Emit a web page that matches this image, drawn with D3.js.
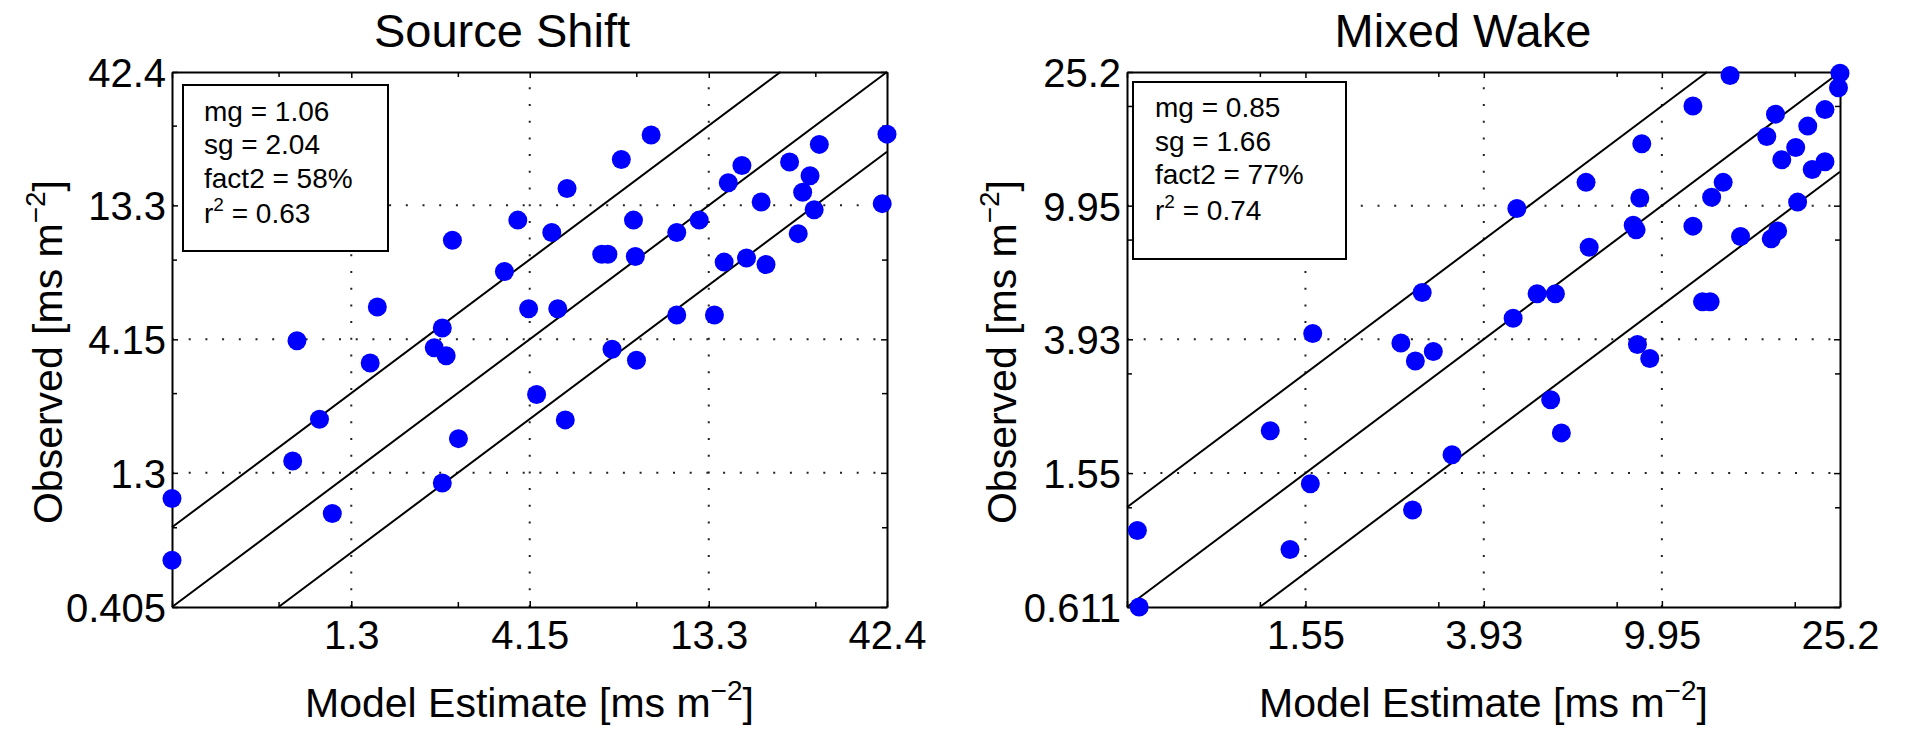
<!DOCTYPE html>
<html>
<head>
<meta charset="utf-8">
<script src="https://cdn.jsdelivr.net/npm/d3@7"></script>
<style>
  body { margin: 0; background: #fff; }
  svg { display: block; font-family: "Liberation Sans", Arial, sans-serif; }
</style>
</head>
<body>
<svg id="chart" width="1908" height="731"></svg>
<script>
// Source Shift panel
const sourceShiftTicks = [0.405, 1.3, 4.15, 13.3, 42.4]
const sourceShiftModel = [0.405, 0.405, 0.913, 0.888, 1.057, 1.149, 1.47, 1.54, 2.23, 2.35,
    2.41, 2.35, 2.51, 2.61, 3.52, 3.84, 4.12, 4.34, 4.79, 4.98,
    5.29, 5.23, 6.63, 6.90, 7.09, 7.53, 8.15, 8.25, 8.31, 9.14,
    10.8, 10.8, 12.5, 13.8, 14.7, 15.1, 16.5, 17.0, 18.7, 19.3,
    22.5, 23.8, 24.5, 25.7, 26.4, 27.3, 41.1, 42.4]
const sourceShiftObserved = [1.04, 0.608, 4.10, 1.44, 2.07, 0.913, 3.38, 5.50, 3.86, 4.58,
    3.60, 1.19, 9.82, 1.75, 7.48, 11.7, 5.41, 2.57, 10.5, 5.41,
    15.4, 2.06, 8.70, 8.70, 3.81, 19.8, 11.7, 8.52, 3.46, 24.5,
    10.5, 5.13, 11.7, 5.13, 8.12, 16.2, 18.8, 8.42, 13.7, 7.95,
    19.4, 10.4, 14.9, 17.2, 12.8, 22.6, 13.5, 24.7]
const sourceShiftStats = ["mg = 1.06", "sg = 2.04", "fact2 = 58%", "0.63"]

// Mixed Wake panel
const mixedWakeTicks = [0.611, 1.55, 3.93, 9.95, 25.2]
const mixedWakeModel = [0.645, 0.651, 1.29, 1.43, 1.59, 1.61, 2.55, 2.71, 2.75, 2.85,
    3.02, 3.33, 4.58, 4.67, 5.19, 5.57, 5.71, 5.89, 6.70, 6.81,
    8.57, 8.70, 8.76, 8.87, 8.96, 9.34, 11.7, 11.7, 12.3, 12.8,
    12.9, 13.7, 14.2, 15.0, 17.2, 17.6, 18.0, 18.2, 18.6, 20.0,
    20.2, 21.3, 21.8, 23.3, 23.3, 25.0, 25.2]
const mixedWakeObserved = [1.04, 0.611, 2.08, 0.911, 1.44, 4.09, 3.83, 1.20, 3.38, 5.44,
    3.61, 1.76, 4.55, 9.76, 5.39, 2.58, 5.39, 2.05, 11.7, 7.45,
    8.68, 8.41, 3.79, 10.5, 15.3, 3.44, 19.9, 8.63, 5.10, 5.10,
    10.55, 11.7, 24.6, 8.03, 16.1, 7.90, 18.8, 8.35, 13.7, 14.9,
    10.2, 17.3, 12.8, 19.4, 13.5, 22.6, 25.0]
const mixedWakeStats = ["mg = 0.85", "sg = 1.66", "fact2 = 77%", "0.74"]

const panels = [
    {title: "Source Shift", ticks: sourceShiftTicks, model: sourceShiftModel, observed: sourceShiftObserved,
     stats: sourceShiftStats, left: 172, right: 887, titleX: 502, ylabelX: 62,
     box: {x: 183, y: 85, w: 205, h: 166}, textX: 204, baselines: [121, 154, 188, 223]},
    {title: "Mixed Wake", ticks: mixedWakeTicks, model: mixedWakeModel, observed: mixedWakeObserved,
     stats: mixedWakeStats, left: 1127, right: 1840, titleX: 1463, ylabelX: 1016,
     box: {x: 1133, y: 82, w: 213, h: 177}, textX: 1155, baselines: [117, 151, 184, 220]}
]

const plotTop = 72, plotBottom = 607
const svg = d3.select("#chart")

panels.forEach(p => {
    const lo = p.ticks[0], hi = p.ticks[p.ticks.length - 1]
    const x = d3.scaleLog().domain([lo, hi]).range([p.left, p.right])
    const y = d3.scaleLog().domain([lo, hi]).range([plotBottom, plotTop])
    const minor = p.ticks.slice(0, -1).map(v => v * 2)
    const g = svg.append("g")

    // dotted grid on inner major ticks
    const inner = p.ticks.slice(1, -1)
    g.selectAll(".gx").data(inner).join("line")
        .attr("x1", d => x(d)).attr("x2", d => x(d))
        .attr("y1", plotBottom).attr("y2", plotTop)
        .attr("stroke", "#222").attr("stroke-width", 2)
        .attr("stroke-dasharray", "2,14.7")
    g.selectAll(".gy").data(inner).join("line")
        .attr("y1", d => y(d)).attr("y2", d => y(d))
        .attr("x1", p.left).attr("x2", p.right)
        .attr("stroke", "#222").attr("stroke-width", 2)
        .attr("stroke-dasharray", "2,14.7")

    // axes, ticks pointing inward
    const fmt = d => String(d)
    const axes = [
        {a: d3.axisBottom(x), t: `translate(0,${plotBottom})`, labels: true, minorAxis: d3.axisBottom(x)},
        {a: d3.axisTop(x), t: `translate(0,${plotTop})`, labels: false, minorAxis: d3.axisTop(x)},
        {a: d3.axisLeft(y), t: `translate(${p.left},0)`, labels: true, minorAxis: d3.axisLeft(y)},
        {a: d3.axisRight(y), t: `translate(${p.right},0)`, labels: false, minorAxis: d3.axisRight(y)}
    ]
    axes.forEach((ax, i) => {
        const major = g.append("g").attr("transform", ax.t)
            .call(ax.a.tickValues(p.ticks).tickSizeInner(-6).tickSizeOuter(0)
                .tickFormat(ax.labels ? fmt : () => ""))
        g.append("g").attr("transform", ax.t)
            .call(ax.minorAxis.tickValues(minor).tickSizeInner(-5).tickSizeOuter(0).tickFormat(() => ""))
            .call(s => s.select(".domain").remove())
        major.select(".domain").attr("stroke", "#000").attr("stroke-width", 2)
        major.selectAll("text").attr("fill", "#000").attr("font-size", 40)
            .attr("font-family", "Liberation Sans, Arial, sans-serif")
        if (i === 0) {
            major.selectAll("text").attr("y", 42).attr("dy", null)
                .text((d, j) => j === 0 ? "" : fmt(d))
        }
        if (i === 2) {
            major.selectAll("text").attr("x", -6).attr("dy", "0.36em")
        }
    })
    g.selectAll(".tick line").attr("stroke", "#000").attr("stroke-width", 1.5)

    // factor-of-two and 1:1 lines
    const refLines = [
        [[lo, lo], [hi, hi]],
        [[lo, lo * 2], [hi / 2, hi]],
        [[lo * 2, lo], [hi, hi / 2]]
    ]
    g.selectAll(".ref").data(refLines).join("line")
        .attr("x1", d => x(d[0][0])).attr("y1", d => y(d[0][1]))
        .attr("x2", d => x(d[1][0])).attr("y2", d => y(d[1][1]))
        .attr("stroke", "#000").attr("stroke-width", 2)

    // observations
    g.selectAll(".pt").data(p.model).join("circle")
        .attr("cx", d => x(d))
        .attr("cy", (d, i) => y(p.observed[i]))
        .attr("r", 9.5)
        .attr("fill", "#0000ff")

    // stats box
    g.append("rect")
        .attr("x", p.box.x).attr("y", p.box.y)
        .attr("width", p.box.w).attr("height", p.box.h)
        .attr("fill", "#fff").attr("stroke", "#000").attr("stroke-width", 2)
    p.stats.forEach((s, i) => {
        const t = g.append("text")
            .attr("x", p.textX).attr("y", p.baselines[i])
            .attr("font-size", 28).attr("fill", "#000")
        if (i === 3) {
            t.append("tspan").text("r")
            t.append("tspan").attr("font-size", 19).attr("dy", -12).text("2")
            t.append("tspan").attr("dy", 12).text(" = " + s)
        } else {
            t.text(s)
        }
    })

    // title and axis labels
    g.append("text")
        .attr("x", p.titleX).attr("y", 47)
        .attr("text-anchor", "middle").attr("font-size", 47)
        .text(p.title)

    const xl = g.append("text")
        .attr("x", (p.left + p.right) / 2).attr("y", 717)
        .attr("text-anchor", "middle").attr("font-size", 41)
    xl.append("tspan").text("Model Estimate [ms m")
    xl.append("tspan").attr("font-size", 28).attr("dy", -17).text("\u22122")
    xl.append("tspan").attr("dy", 17).text("]")

    const yl = g.append("text")
        .attr("transform", `translate(${p.ylabelX},352) rotate(-90)`)
        .attr("text-anchor", "middle").attr("font-size", 41)
    yl.append("tspan").text("Observed [ms m")
    yl.append("tspan").attr("font-size", 28).attr("dy", -17).text("\u22122")
    yl.append("tspan").attr("dy", 17).text("]")
})
</script>
</body>
</html>
